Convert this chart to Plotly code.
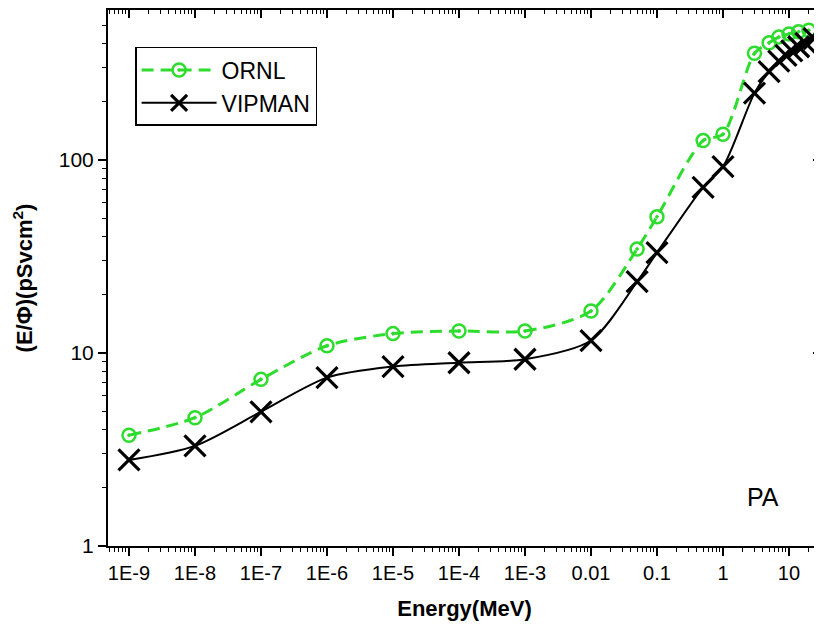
import plotly.graph_objects as go

# ORNL data (energy in MeV, E/Phi in pSv cm^2)
ornl_energy = [1e-9, 1e-8, 1e-7, 1e-6, 1e-5, 1e-4, 1e-3, 0.01, 0.05, 0.1, 0.5, 1, 3, 5, 7, 10, 14, 20]
ornl_value = [3.75, 4.62, 7.3, 10.9, 12.6, 13.0, 13.0, 16.5, 34.6, 50.8, 126, 136, 357, 405, 433, 450, 462, 470]

# VIPMAN data
vip_energy = [1e-9, 1e-8, 1e-7, 1e-6, 1e-5, 1e-4, 1e-3, 0.01, 0.05, 0.1, 0.5, 1, 3, 5, 7, 9, 11, 14, 18, 24]
vip_value = [2.79, 3.30, 4.96, 7.45, 8.5, 8.9, 9.28, 11.6, 23.4, 33.1, 72.2, 92.3, 222, 287, 325, 348, 368, 386, 402, 425]

x_tickvals = [1e-9, 1e-8, 1e-7, 1e-6, 1e-5, 1e-4, 1e-3, 0.01, 0.1, 1, 10]
x_ticktext = ["1E-9", "1E-8", "1E-7", "1E-6", "1E-5", "1E-4", "1E-3", "0.01", "0.1", "1", "10"]
y_tickvals = [1, 10, 100]
y_ticktext = ["1", "10", "100"]

GREEN = "#2edc2e"
FONT = "Liberation Sans, Arial, sans-serif"

fig = go.Figure()
fig.add_trace(go.Scatter(
    x=ornl_energy, y=ornl_value, name="ORNL", mode="lines+markers",
    line=dict(color=GREEN, width=3, dash="12px,7px", shape="spline", smoothing=0.8),
    marker=dict(symbol="circle-open-dot", size=13, color=GREEN, line=dict(width=2.5, color=GREEN)),
))
fig.add_trace(go.Scatter(
    x=vip_energy, y=vip_value, name="VIPMAN", mode="lines+markers",
    line=dict(color="black", width=2, shape="spline", smoothing=0.8),
    marker=dict(symbol="x-thin-open", size=21, color="black", line=dict(width=3.2, color="black")),
))
# invisible trace to activate mirrored (inside-tick) top/right axes
fig.add_trace(go.Scatter(
    x=ornl_energy, y=ornl_value, xaxis="x2", yaxis="y2", mode="lines",
    line=dict(width=0), opacity=0, showlegend=False, hoverinfo="skip",
))

xr = [-9.318, 1.485]
yr = [0.0, 2.777]

# page body has an 8px default margin, so the figure is sized/placed to compensate
fig.update_layout(
    width=814, height=623,
    margin=dict(l=100, r=1, t=2, b=85, autoexpand=False),
    paper_bgcolor="white", plot_bgcolor="white",
    font=dict(family=FONT, color="black"),
    showlegend=True,
    legend=dict(
        x=0.038, y=0.931, xanchor="left", yanchor="top",
        bgcolor="white", bordercolor="black", borderwidth=1.5,
        font=dict(size=23, family=FONT), itemwidth=75, tracegroupgap=0,
    ),
    xaxis=dict(
        type="log", range=xr, tickvals=x_tickvals, ticktext=x_ticktext,
        ticks="outside", ticklen=8, tickwidth=1.5, tickcolor="black",
        showline=True, linecolor="black", linewidth=2, showgrid=False, zeroline=False,
        tickfont=dict(size=20), mirror=False, automargin=False,
        minor=dict(ticks="outside", ticklen=4, tickwidth=1.2, tickcolor="black", dtick="D1", showgrid=False),
        title=dict(text="<b>Energy(MeV)</b>", font=dict(size=22), standoff=18),
    ),
    yaxis=dict(
        type="log", range=yr, tickvals=y_tickvals, ticktext=y_ticktext,
        ticks="outside", ticklen=8, tickwidth=1.5, tickcolor="black",
        showline=True, linecolor="black", linewidth=2, showgrid=False, zeroline=False,
        tickfont=dict(size=21), automargin=False,
        minor=dict(ticks="outside", ticklen=4, tickwidth=1.2, tickcolor="black", dtick="D1", showgrid=False),
        title=dict(text="<b>(E/Φ)(pSvcm<sup>2</sup>)</b>", font=dict(size=22), standoff=20),
    ),
    xaxis2=dict(
        type="log", range=xr, overlaying="x", side="top", anchor="y2",
        tickvals=x_tickvals, showticklabels=False, automargin=False,
        ticks="inside", ticklen=8, tickwidth=1.5, tickcolor="black",
        showline=True, linecolor="black", linewidth=2, showgrid=False, zeroline=False,
        minor=dict(ticks="inside", ticklen=4, tickwidth=1.2, tickcolor="black", dtick="D1", showgrid=False),
    ),
    yaxis2=dict(
        type="log", range=yr, overlaying="y", side="right", anchor="x2",
        tickvals=y_tickvals, showticklabels=False, automargin=False,
        ticks="inside", ticklen=8, tickwidth=1.5, tickcolor="black",
        showline=True, linecolor="black", linewidth=2, showgrid=False, zeroline=False,
        minor=dict(ticks="inside", ticklen=4, tickwidth=1.2, tickcolor="black", dtick="D1", showgrid=False),
    ),
    annotations=[dict(
        text="PA", x=0.919, y=0.091, xref="paper", yref="paper",
        showarrow=False, font=dict(size=25, family=FONT), xanchor="center", yanchor="middle",
    )],
)

fig.write_html("out.html")
